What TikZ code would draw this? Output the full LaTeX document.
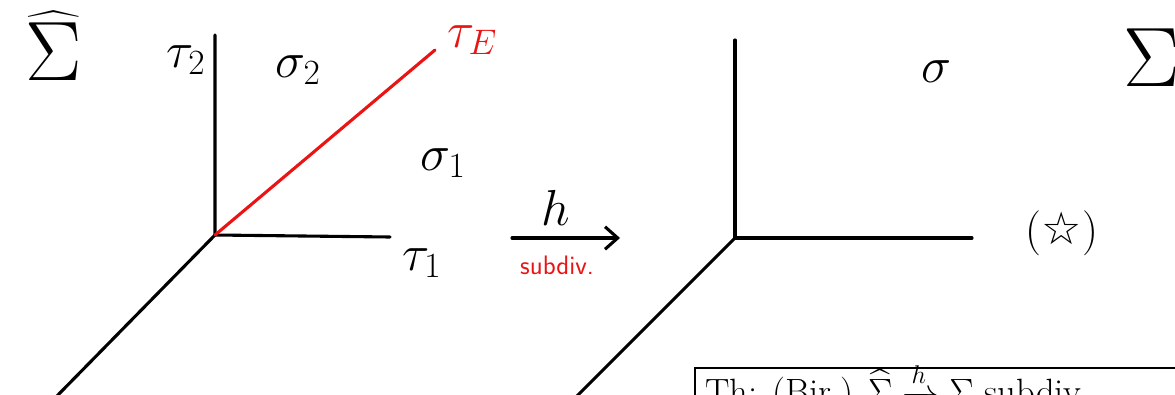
\RequirePackage{fix-cm}
\documentclass[tikz,border=0pt]{standalone}
\usepackage{amsmath}
\usepackage{fontspec}
\newfontfamily\starfont{DejaVu Sans}
\usetikzlibrary{arrows.meta}
\definecolor{penred}{RGB}{235,20,20}

\tikzset{
  pen/.style={line width=2.2pt, line cap=round, line join=round},
  big/.style={font=\fontsize{36}{40}\selectfont},
  huge/.style={font=\fontsize{60}{64}\selectfont}
}

\begin{document}
\begin{tikzpicture}[x=0.025cm, y=-0.025cm]

\useasboundingbox (0,0) rectangle (1175,394);
\clip (0,0) rectangle (1175,394);

%left fan:
\coordinate (O) at (215,235);
\coordinate (T2) at (215,35);
\coordinate (T1) at (390,237);
\coordinate (D) at (55,398);
\coordinate (TE) at (435,50);
\draw[pen] (T2) -- (O) -- (T1);
\draw[pen] (O) -- (D);
\draw[pen, penred] (O) -- (TE);

\node[huge] (shat) at (54,46) {$\widehat{\Sigma}$};
\node[big] (tau2) at (186,60) {$\tau_2$};
\node[big] (sig2) at (298,70) {$\sigma_2$};
\node[big, text=penred] (tauE) at (472,40) {$\tau_E$};
\node[big] (sig1) at (443,163) {$\sigma_1$};
\node[big] (tau1) at (422,263) {$\tau_1$};

%map:
\coordinate (hA) at (512,238);
\coordinate (hB) at (620,238);
\draw[pen, -{Straight Barb[length=9pt,width=16pt]}] (hA) -- (hB);
\node[big] (h) at (556,208) {$h$};
\node[text=penred, font=\sffamily\fontsize{19}{21}\selectfont] (sub) at (557,265) {subdiv.};

%right fan:
\coordinate (P) at (735,238);
\coordinate (S2) at (735,40);
\coordinate (S1) at (972,238);
\coordinate (E) at (575,398);
\draw[pen] (S2) -- (P) -- (S1);
\draw[pen] (P) -- (E);

\node[big] (sig) at (936,72) {$\sigma$};
\node[huge] (sum) at (1152,58) {$\Sigma$};
\node[font=\fontsize{32}{36}\selectfont] (star) at (1062,233) {(\starfont ☆\normalfont)};

%theorem box:
\coordinate (B1) at (695,368);
\coordinate (B2) at (1185,420);
\draw[line width=0.8pt] (B1) rectangle (B2);
\node[anchor=base west, font=\fontsize{26}{28}\selectfont, inner sep=0pt] (thm) at (705,404)
  {Th: (Bir.) $\widehat{\Sigma} \xrightarrow{h} \Sigma$ subdiv.};

\end{tikzpicture}
\end{document}
